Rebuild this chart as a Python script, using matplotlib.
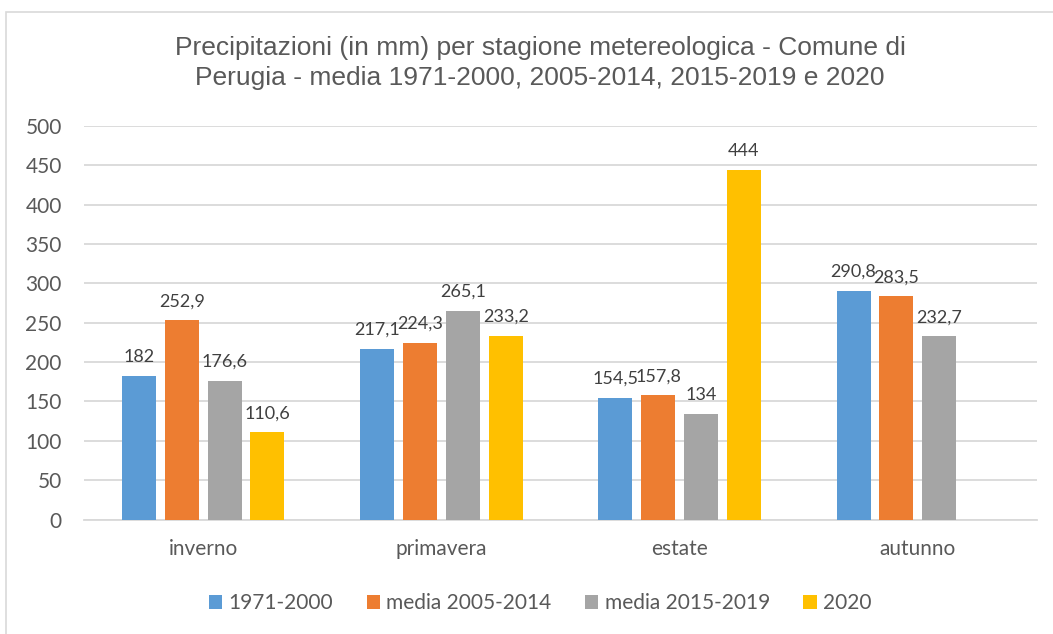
import numpy as np
import matplotlib.pyplot as plt
from matplotlib.patches import Rectangle

seasons = ['inverno', 'primavera', 'estate', 'autunno']
series = ['1971-2000', 'media 2005-2014', 'media 2015-2019', '2020']
v_1971_2000 = [182, 217.1, 154.5, 290.8]
v_2005_2014 = [252.9, 224.3, 157.8, 283.5]
v_2015_2019 = [176.6, 265.1, 134, 232.7]
v_2020 = [110.6, 233.2, 444, np.nan]
colors = ['#5B9BD5', '#ED7D31', '#A5A5A5', '#FFC000']

title = ('Precipitazioni (in mm) per stagione metereologica - Comune di\n'
         'Perugia - media 1971-2000, 2005-2014, 2015-2019 e 2020')


def fmt(v):
    if float(v).is_integer():
        return str(int(v))
    return f'{v:.1f}'.replace('.', ',')


fig = plt.figure(figsize=(10.53, 6.34), dpi=100)
ax = fig.add_axes([84 / 1053, 1 - 519.5 / 634, (1037 - 84) / 1053, (519.5 - 126) / 634])

# bordo esterno del grafico (stile Excel)
fig.patches.append(Rectangle((6 / 1053, -0.1), 1.2, 1.1 - 12 / 634, transform=fig.transFigure,
                             fill=False, edgecolor='#D9D9D9', linewidth=1.2, zorder=0))

x = np.arange(len(seasons))
width = 0.143
step = 0.18
all_vals = [v_1971_2000, v_2005_2014, v_2015_2019, v_2020]
for i, (vals, name, col) in enumerate(zip(all_vals, series, colors)):
    pos = x + (i - 1.5) * step
    ax.bar(pos, vals, width=width, color=col, label=name, zorder=3)
    for p, v in zip(pos, vals):
        if np.isnan(v):
            continue
        ax.annotate(fmt(v), (p, v), xytext=(0, 8), textcoords='offset points',
                    ha='center', va='bottom', fontsize=13, color='#404040', family='Lato')

ax.set_xlim(-0.5, 3.5)
ax.set_ylim(0, 500)
ax.set_yticks(range(0, 501, 50))
ax.yaxis.grid(True, color='#D9D9D9', linewidth=1.3, zorder=0)
ax.set_axisbelow(True)
for s in ['top', 'right', 'left']:
    ax.spines[s].set_visible(False)
ax.spines['bottom'].set_color('#D9D9D9')
ax.spines['bottom'].set_linewidth(1.3)
ax.set_xticks(x)
ax.set_xticklabels(seasons)
ax.tick_params(axis='both', length=0, colors='#595959', labelsize=15)
ax.tick_params(axis='y', pad=16)
ax.tick_params(axis='x', pad=14)
for lab in ax.get_xticklabels() + ax.get_yticklabels():
    lab.set_family('Lato')

fig.text(0.513, 1 - 63 / 634, title, ha='center', va='center', fontsize=19,
         color='#595959', family='Liberation Sans', linespacing=1.35)

fig.legend(loc='center', bbox_to_anchor=(0.513, 1 - 603 / 634), ncol=4, frameon=False,
           handlelength=0.65, handleheight=0.65, handletextpad=0.3, columnspacing=1.6,
           prop={'family': 'Lato', 'size': 15}, labelcolor='#595959')

fig.savefig('out.png', dpi=100)
